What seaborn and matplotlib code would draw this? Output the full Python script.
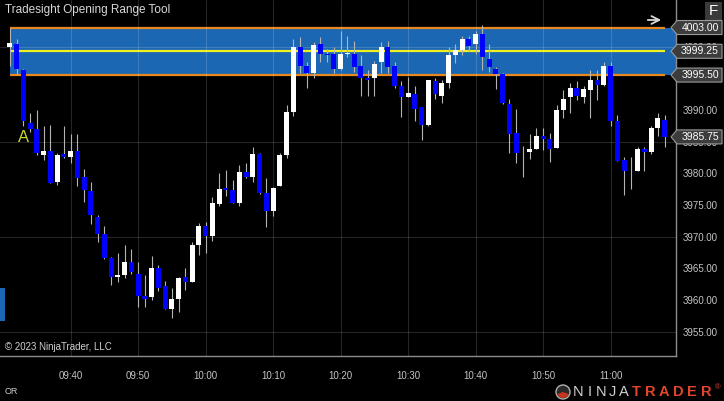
import numpy as np
import pandas as pd
import matplotlib
matplotlib.use("Agg")
import matplotlib.pyplot as plt
import matplotlib.dates as mdates
from matplotlib.patches import Polygon, Rectangle, Circle, Wedge, FancyArrowPatch
from matplotlib.transforms import IdentityTransform
import seaborn as sns

# 1-minute bars starting 09:31
first_bar = "2023-03-01 09:31"
opens = [4000.0, 4000.4, 3996.3, 3987.9, 3987.0, 3982.9, 3983.6, 3978.7, 3983.0, 3982.6,
         3983.6, 3979.4, 3977.2, 3973.1, 3970.4, 3966.6, 3963.7, 3964.0, 3966.1, 3964.2,
         3960.7, 3960.5, 3965.1, 3962.2, 3958.6, 3960.2, 3963.7, 3962.9, 3968.7, 3971.7,
         3970.2, 3975.2, 3977.7, 3977.4, 3975.4, 3980.2, 3979.4, 3983.1, 3976.9, 3974.0,
         3978.0, 3982.9, 3989.7, 3999.9, 3997.0, 3995.8, 4000.4, 3998.9, 3998.8, 3996.5,
         3998.8, 3998.9, 3997.0, 3995.0, 3995.0, 3997.5, 3999.9, 3997.0, 3993.8, 3992.0,
         3992.5, 3990.4, 3987.6, 3994.5, 3992.2, 3994.3, 3998.7, 3999.5, 4001.2, 4000.4,
         4001.9, 3998.1, 3996.5, 3995.7, 3990.9, 3986.3, 3981.6, 3983.4, 3983.8, 3985.9,
         3985.4, 3984.0, 3990.0, 3992.0, 3993.4, 3992.0, 3993.1, 3994.8, 3994.0, 3997.0,
         3988.2, 3982.1, 3980.1, 3980.3, 3983.8, 3983.4, 3987.2, 3988.4]
highs = [4003.0, 4001.2, 3996.5, 3989.5, 3990.0, 3987.5, 3987.6, 3983.2, 3987.5, 3986.2,
         3986.2, 3980.7, 3978.7, 3973.4, 3971.7, 3966.8, 3967.4, 3968.7, 3968.1, 3966.1,
         3964.0, 3966.9, 3965.6, 3963.0, 3961.9, 3963.6, 3965.1, 3969.2, 3972.1, 3972.4,
         3976.2, 3980.0, 3980.5, 3979.0, 3981.3, 3981.7, 3984.2, 3983.2, 3979.2, 3977.8,
         3983.2, 3990.8, 4001.2, 4001.5, 3997.5, 4000.7, 4001.5, 3999.6, 4000.0, 4002.4,
         4001.7, 4000.9, 3998.7, 3996.3, 3997.7, 4000.7, 4000.9, 3997.5, 3994.5, 3995.2,
         3993.7, 3990.5, 3994.8, 3995.1, 3994.7, 3999.9, 4000.4, 4001.7, 4001.7, 4002.4,
         4003.4, 4000.4, 3996.8, 3995.8, 3991.7, 3990.1, 3984.3, 3986.2, 3987.1, 3987.1,
         3986.3, 3990.8, 3993.1, 3994.2, 3994.5, 3993.8, 3996.3, 3996.3, 3997.6, 3997.6,
         3989.2, 3982.6, 3982.6, 3984.2, 3984.2, 3987.5, 3989.5, 3989.2]
lows = [3997.0, 3995.5, 3987.5, 3986.5, 3982.9, 3982.1, 3978.5, 3978.2, 3982.4, 3981.7,
        3978.0, 3975.5, 3972.0, 3969.1, 3966.5, 3962.4, 3962.9, 3963.5, 3964.1, 3959.0,
        3959.0, 3960.0, 3961.4, 3958.6, 3957.2, 3958.2, 3961.6, 3962.9, 3967.1, 3967.4,
        3969.4, 3974.9, 3976.4, 3975.4, 3974.9, 3979.2, 3978.7, 3976.7, 3971.6, 3973.2,
        3978.0, 3982.4, 3989.0, 3995.8, 3993.4, 3995.0, 3997.5, 3997.5, 3995.8, 3996.3,
        3998.4, 3996.0, 3992.2, 3992.2, 3992.2, 3995.8, 3995.8, 3993.4, 3988.9, 3992.0,
        3988.2, 3985.2, 3987.4, 3991.7, 3991.1, 3993.5, 3997.4, 3998.7, 3999.3, 3998.9,
        3996.3, 3996.0, 3993.3, 3991.0, 3983.2, 3981.7, 3979.5, 3982.2, 3983.8, 3983.7,
        3981.8, 3984.0, 3988.7, 3989.5, 3991.6, 3991.1, 3988.7, 3991.5, 3993.7, 3987.4,
        3981.9, 3976.6, 3977.6, 3980.3, 3980.3, 3983.1, 3985.9, 3984.2]
closes = [4000.5, 3996.5, 3988.3, 3987.0, 3983.2, 3983.6, 3978.5, 3982.9, 3982.6, 3983.6,
          3979.3, 3977.3, 3973.4, 3970.4, 3966.7, 3963.7, 3964.0, 3966.1, 3964.4, 3960.7,
          3960.2, 3965.1, 3962.0, 3958.6, 3960.2, 3963.5, 3962.9, 3968.7, 3971.7, 3970.2,
          3975.4, 3977.6, 3977.4, 3975.4, 3980.2, 3979.4, 3983.1, 3976.9, 3974.0, 3977.7,
          3982.9, 3989.7, 3999.9, 3997.0, 3995.8, 4000.2, 3998.9, 3998.7, 3996.5, 3998.9,
          3998.9, 3996.8, 3995.1, 3994.8, 3997.2, 3999.9, 3996.8, 3993.8, 3992.0, 3992.7,
          3990.2, 3987.6, 3994.7, 3992.5, 3994.2, 3998.7, 3999.4, 4001.2, 4000.1, 4001.9,
          3998.4, 3996.8, 3995.7, 3991.1, 3986.2, 3983.2, 3981.6, 3983.8, 3985.9, 3985.4,
          3983.8, 3990.0, 3991.7, 3993.4, 3992.2, 3993.3, 3994.7, 3994.0, 3997.0, 3988.2,
          3982.0, 3980.3, 3980.1, 3983.8, 3983.4, 3987.2, 3988.7, 3985.75]

or_high = 4003.00
or_mid = 3999.25
or_low = 3995.50
last_price = 3985.75
price_ticks = [3955, 3960, 3965, 3970, 3975, 3980, 3985, 3990, 4000]
grid_levels = [3955, 3970, 3985, 4000]
time_labels = ["09:40", "09:50", "10:00", "10:10", "10:20", "10:30", "10:40", "10:50", "11:00"]

sns.set_theme(style="dark", rc={
    "figure.facecolor": "black", "axes.facecolor": "black", "savefig.facecolor": "black",
    "axes.edgecolor": "#8c8c8c", "text.color": "#d0d0d0",
    "xtick.color": "#8c8c8c", "ytick.color": "#8c8c8c",
})
plt.rcParams["font.family"] = ["Liberation Sans", "DejaVu Sans"]

W, H = 724, 401
fig = plt.figure(figsize=(W / 100, H / 100), dpi=100)
ax = fig.add_axes([0, (H - 356) / H, 676 / W, 356 / H])

bars = pd.DataFrame({"open": opens, "high": highs, "low": lows, "close": closes},
                    index=pd.date_range(first_bar, periods=len(opens), freq="min"))
xs = mdates.date2num(bars.index)
one_min = 1 / 1440
o = bars["open"].to_numpy()
c = bars["close"].to_numpy()
body = np.where(o == c, 0.0, np.maximum(np.abs(c - o), 0.2))
colors = np.where(c >= o, "#ffffff", "#0000ff")

x_left = xs[0] - 1.46 * one_min
x_right = xs[-1] + 1.69 * one_min

# opening range box and levels
ax.add_patch(Rectangle((xs[0], or_low), x_right - xs[0], or_high - or_low,
                       fc="#1b67b3", ec="none", zorder=1))
ax.hlines([or_high, or_low], xs[0], xs[-1], color="#e8891f", lw=1.6, zorder=2)
ax.hlines(or_mid, xs[0], xs[-1], color="#efef22", lw=1.6, zorder=2)

# grid
for lvl in grid_levels:
    ax.axhline(lvl, color="white", alpha=0.15, lw=0.8, zorder=2.5)
ax.set_axisbelow(False)
ax.grid(axis="x", color="white", alpha=0.15, lw=0.8)
ax.grid(axis="y", visible=False)

# candles
ax.vlines(xs, bars["low"], bars["high"], color="#b4b4b4", lw=0.8, zorder=3)
ax.bar(xs, body, bottom=np.minimum(o, c), width=0.74 * one_min, color=colors,
       linewidth=0, zorder=4)

ax.text(xs[2], 3985.7, "A", color="#c3d82b", fontsize=12, ha="center", va="center", zorder=5)

ax.set_xlim(x_left, x_right)
ax.set_ylim(3951.2, 4007.34)

tick_dates = mdates.date2num(pd.to_datetime([first_bar[:11] + t for t in time_labels]))
ax.set_xticks(tick_dates)
ax.set_xticklabels(time_labels)
ax.yaxis.tick_right()
ax.set_yticks(price_ticks + [4005])
ax.set_yticklabels([f"{p:.2f}" for p in price_ticks] + [""])
ax.tick_params(axis="y", length=3, width=0.8, pad=2, labelsize=7, labelcolor="#c4c4c4")
ax.tick_params(axis="x", length=3, width=0.8, pad=8, labelsize=7, labelcolor="#c4c4c4")
sns.despine(ax=ax, left=True, top=True, right=False, bottom=False)
for side in ("right", "bottom"):
    ax.spines[side].set_color("#8c8c8c")
    ax.spines[side].set_linewidth(1)


def price_tag(price):
    yc = ax.transData.transform((xs[0], price))[1]
    verts = [(671, yc), (677, yc + 7), (722, yc + 7), (722, yc - 7), (677, yc - 7)]
    fig.add_artist(Polygon(verts, closed=True, transform=IdentityTransform(),
                           fc="#3c3c3c", ec="#9a9a9a", lw=0.8, zorder=10))
    fig.text(700 / W, yc / H, f"{price:.2f}", ha="center", va="center",
             color="white", fontsize=7.5, zorder=11)


for p in (or_high, or_mid, or_low, last_price):
    price_tag(p)

# chrome around the chart
fig.text(5 / W, (H - 10) / H, "Tradesight Opening Range Tool", fontsize=8.5,
         color="#d8d8d8", va="center")
fig.text(5 / W, (H - 347) / H, "\u00a9 2023 NinjaTrader, LLC", fontsize=7,
         color="#d0d0d0", va="center")
fig.text(5 / W, (H - 391) / H, "OR", fontsize=6.5, color="#d0d0d0", va="center")

fig.add_artist(Rectangle((705, H - 20), 17, 18, transform=IdentityTransform(),
                         fc="#3a3a3a", ec="none"))
fig.text(713.5 / W, (H - 11) / H, "F", fontsize=11, color="white", ha="center", va="center")
fig.add_artist(FancyArrowPatch((645, H - 20), (664, H - 20), arrowstyle="->",
                               mutation_scale=14, color="#d8d8d8", lw=1.3,
                               transform=IdentityTransform()))
fig.add_artist(Rectangle((0, H - 321), 5, 33, transform=IdentityTransform(),
                         fc="#1b67b3", ec="none"))

# NinjaTrader logo
fig.add_artist(Circle((563, H - 392), 7, transform=IdentityTransform(),
                      fc="#2a2a2a", ec="#b0b0b0", lw=1))
fig.add_artist(Wedge((563, H - 392), 6, 200, 340, transform=IdentityTransform(),
                     fc="#c8321e", ec="none"))
for k, ch in enumerate("NINJA"):
    fig.text((578 + k * 11.5) / W, (H - 392) / H, ch, fontsize=10.5, color="#d0d0d0",
             ha="center", va="center")
for k, ch in enumerate("TRADER"):
    fig.text((636 + k * 14) / W, (H - 392) / H, ch, fontsize=10.5, color="#e2452b",
             ha="center", va="center", fontweight="bold")
fig.text(718 / W, (H - 388) / H, "\u00ae", fontsize=5.5, color="#e2452b", ha="center", va="center")

fig.savefig("out.png", dpi=100)
